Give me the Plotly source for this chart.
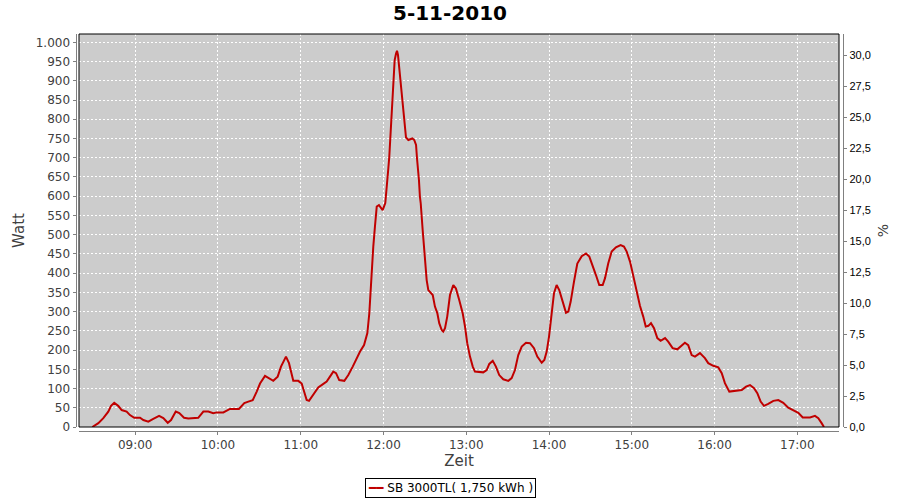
import plotly.graph_objects as go

DATE = "2010-11-05"
TITLE = "5-11-2010"
SERIES_NAME = "SB 3000TL( 1,750 kWh )"
LINE_COLOR = "#c00000"

times = [
    "08:28:54", "08:33:18", "08:36:54", "08:40:30", "08:42:30", "08:44:48", "08:47:42", "08:50:12", "08:53:48", "08:56:12", "08:59:18",
    "09:03:30", "09:05:54", "09:09:30", "09:13:06", "09:17:18", "09:20:24", "09:23:36", "09:26:00", "09:29:24", "09:32:00", "09:35:24",
    "09:38:30", "09:45:42", "09:49:24", "09:53:00", "09:56:36", "09:59:06",
    "10:03:54", "10:08:42", "10:15:12", "10:19:06", "10:22:00", "10:25:12", "10:28:06", "10:30:30", "10:34:06", "10:36:30", "10:40:06",
    "10:43:18", "10:45:42", "10:49:18", "10:51:30", "10:54:36", "10:58:12",
    "11:00:42", "11:04:18", "11:06:00", "11:09:36", "11:12:42", "11:16:24", "11:18:48", "11:21:12", "11:23:36", "11:25:36", "11:27:54",
    "11:31:36", "11:34:30", "11:37:42", "11:40:36", "11:43:00", "11:45:54", "11:48:18", "11:49:42", "11:50:42", "11:51:24", "11:52:36",
    "11:53:48", "11:55:06", "11:56:42", "11:59:24",
    "12:01:18", "12:01:48", "12:02:42", "12:03:30", "12:04:12", "12:04:54", "12:05:54", "12:06:42", "12:07:24", "12:08:06",
    "12:09:06", "12:09:48", "12:10:30", "12:11:24", "12:12:30", "12:13:12", "12:13:54", "12:14:36", "12:15:24", "12:16:18",
    "12:18:00", "12:19:42", "12:20:54", "12:22:18", "12:23:36", "12:24:18", "12:25:00", "12:25:42", "12:26:24", "12:27:00",
    "12:28:24", "12:29:24", "12:30:18", "12:31:18", "12:32:30", "12:35:42", "12:37:18", "12:39:00", "12:40:24", "12:42:12",
    "12:43:18", "12:44:36", "12:46:12", "12:48:12", "12:50:36", "12:52:30", "12:54:54", "12:57:24", "12:59:06",
    "13:00:42", "13:02:42", "13:04:42", "13:06:18", "13:12:18", "13:14:48", "13:16:42", "13:19:12", "13:21:30", "13:23:54",
    "13:26:48", "13:30:30", "13:32:54", "13:35:18", "13:37:42", "13:40:12", "13:43:18", "13:46:12", "13:49:06", "13:51:30",
    "13:54:42", "13:56:36", "13:58:18",
    "14:00:00", "14:01:54", "14:03:36", "14:05:30", "14:07:24", "14:09:54", "14:12:18", "14:14:00", "14:15:42", "14:18:06",
    "14:20:30", "14:23:42", "14:26:48", "14:29:12", "14:31:36", "14:34:00", "14:36:24", "14:38:54", "14:40:36", "14:42:54",
    "14:45:24", "14:48:30", "14:51:54", "14:54:18", "14:56:18", "14:58:42",
    "15:00:30", "15:02:18", "15:04:00", "15:05:54", "15:08:18", "15:10:06", "15:12:00", "15:13:54", "15:16:06", "15:18:30",
    "15:20:54", "15:24:06", "15:26:24", "15:29:36", "15:33:00", "15:36:12", "15:38:30", "15:40:54", "15:43:24", "15:45:48",
    "15:49:24", "15:53:00", "15:55:24", "15:59:06",
    "16:02:42", "16:05:12", "16:07:30", "16:10:42", "16:14:48", "16:19:42", "16:22:48", "16:25:42", "16:28:36", "16:31:00",
    "16:33:24", "16:35:48", "16:38:54", "16:42:36", "16:46:12", "16:49:48", "16:53:24", "16:57:06",
    "17:00:42", "17:03:54", "17:09:12", "17:12:48", "17:15:12", "17:17:36", "17:19:18",
]

watts = [
    0, 10, 23, 40, 55, 63, 55, 44, 40, 31, 24,
    24, 18, 14, 21, 29, 23, 11, 18, 40, 36, 24,
    22, 24, 40, 40, 36, 38,
    38, 47, 47, 62, 66, 70, 92, 113, 133, 128, 120,
    131, 157, 183, 166, 120, 120,
    113, 70, 68, 88, 103, 112, 118, 131, 144, 140, 122,
    120, 135, 157, 179, 196, 213, 244, 295, 356, 408, 469,
    521, 573, 577, 564,
    582, 599, 633, 672, 703, 755, 798, 859, 919, 954,
    971, 978, 967, 932, 906, 876, 841, 820, 781, 753,
    746, 748, 750, 746, 733, 698, 672, 642, 599, 581,
    512, 460, 412, 382, 356, 343, 313, 296, 270, 252,
    248, 257, 287, 343, 369, 360, 330, 296, 261,
    218, 183, 157, 144, 142, 148, 164, 172, 157, 135,
    124, 120, 127, 148, 187, 209, 219, 218, 205, 183,
    167, 174, 196,
    235, 296, 348, 369, 356, 326, 297, 300, 326, 378,
    425, 444, 451, 443, 421, 395, 369, 369, 387, 425,
    456, 467, 473, 469, 456, 430,
    402, 370, 345, 315, 287, 261, 263, 270, 257, 231,
    224, 231, 222, 205, 202, 213, 219, 213, 187, 183,
    192, 179, 166, 159,
    155, 140, 114, 92, 94, 96, 105, 109, 101, 88,
    66, 55, 60, 68, 70, 63, 50, 44,
    37, 25, 25, 29, 23, 10, 0,
]

x_range = ["08:19:16", "17:30:12"]
watt_range = [0, 1021.6]
pct_range = [0, 31.72]

xs = [f"{DATE} {t}" for t in times]

FONT = "DejaVu Sans"
LABEL_GREY = "rgb(64,64,64)"
AXIS_GREY = "rgb(128,128,128)"
W = 900
H = 500

fig = go.Figure()
fig.add_trace(go.Scatter(
    x=xs, y=watts, mode="lines", name=SERIES_NAME,
    line=dict(color=LINE_COLOR, width=2),
    yaxis="y", showlegend=False, hoverinfo="x+y",
))
fig.add_trace(go.Scatter(
    x=xs[:1], y=[0], mode="lines", yaxis="y2",
    opacity=0, showlegend=False, hoverinfo="skip",
))

grid = dict(showgrid=True, gridcolor="white", gridwidth=1, griddash="2px,2px")

fig.update_layout(
    width=W, height=H,
    margin=dict(l=0, r=0, t=0, b=0),
    paper_bgcolor="white",
    plot_bgcolor="#cccccc",
    separators=",.",
    showlegend=False,
    font=dict(family=FONT, size=12, color=LABEL_GREY),
    title=dict(text=f"<b>{TITLE}</b>", x=0.5, xanchor="center",
               y=1 - 13 / H, yanchor="middle", yref="container",
               font=dict(family=FONT, size=20, color="black")),
    xaxis=dict(
        domain=[79 / W, 839 / W],
        anchor="free", position=(H - 431) / H,
        type="date",
        range=[f"{DATE} {x_range[0]}", f"{DATE} {x_range[1]}"],
        tick0=f"{DATE} 09:00:00", dtick=3600000, tickformat="%H:%M",
        ticks="outside", ticklen=3, tickcolor=AXIS_GREY,
        showline=True, linecolor=AXIS_GREY, linewidth=1,
        tickfont=dict(family=FONT, size=12, color=LABEL_GREY),
        title=dict(text="Zeit", font=dict(family=FONT, size=15, color=LABEL_GREY), standoff=4),
        zeroline=False, automargin=False,
        **grid,
    ),
    yaxis=dict(
        domain=[(H - 427) / H, (H - 34) / H],
        anchor="free", position=75.5 / W,
        range=watt_range, dtick=50, tick0=0, tickformat=",d",
        ticks="outside", ticklen=3, tickcolor=AXIS_GREY,
        showline=True, linecolor=AXIS_GREY, linewidth=1,
        tickfont=dict(family=FONT, size=12, color=LABEL_GREY),
        title=dict(text="Watt", font=dict(family=FONT, size=15, color=LABEL_GREY), standoff=6),
        zeroline=False, automargin=False,
        **grid,
    ),
    yaxis2=dict(
        overlaying="y", side="right",
        anchor="free", position=843.3 / W,
        range=pct_range, dtick=2.5, tick0=0, tickformat=".1f",
        ticks="outside", ticklen=3, tickcolor=AXIS_GREY,
        showline=True, linecolor=AXIS_GREY, linewidth=1,
        tickfont=dict(family="Liberation Sans", size=11, color="black"),
        title=dict(text="%", font=dict(family=FONT, size=14, color=LABEL_GREY), standoff=8),
        showgrid=False, zeroline=False, automargin=False,
    ),
    annotations=[dict(
        xref="paper", yref="paper", x=0.5, xanchor="center", y=2 / H, yanchor="bottom",
        text=f"<span style='color:{LINE_COLOR}'>━━</span> {SERIES_NAME}",
        showarrow=False, bordercolor="black", borderwidth=1, borderpad=2, bgcolor="white",
        font=dict(family=FONT, size=12, color="black"),
    )],
    shapes=[dict(type="rect", xref="x domain", yref="y domain", x0=0, x1=1, y0=0, y1=1,
                 line=dict(color="black", width=1), fillcolor="rgba(0,0,0,0)", layer="above")],
)

fig.write_html("out.html", config={"displayModeBar": False},
               post_script="document.body.style.margin='0';")
